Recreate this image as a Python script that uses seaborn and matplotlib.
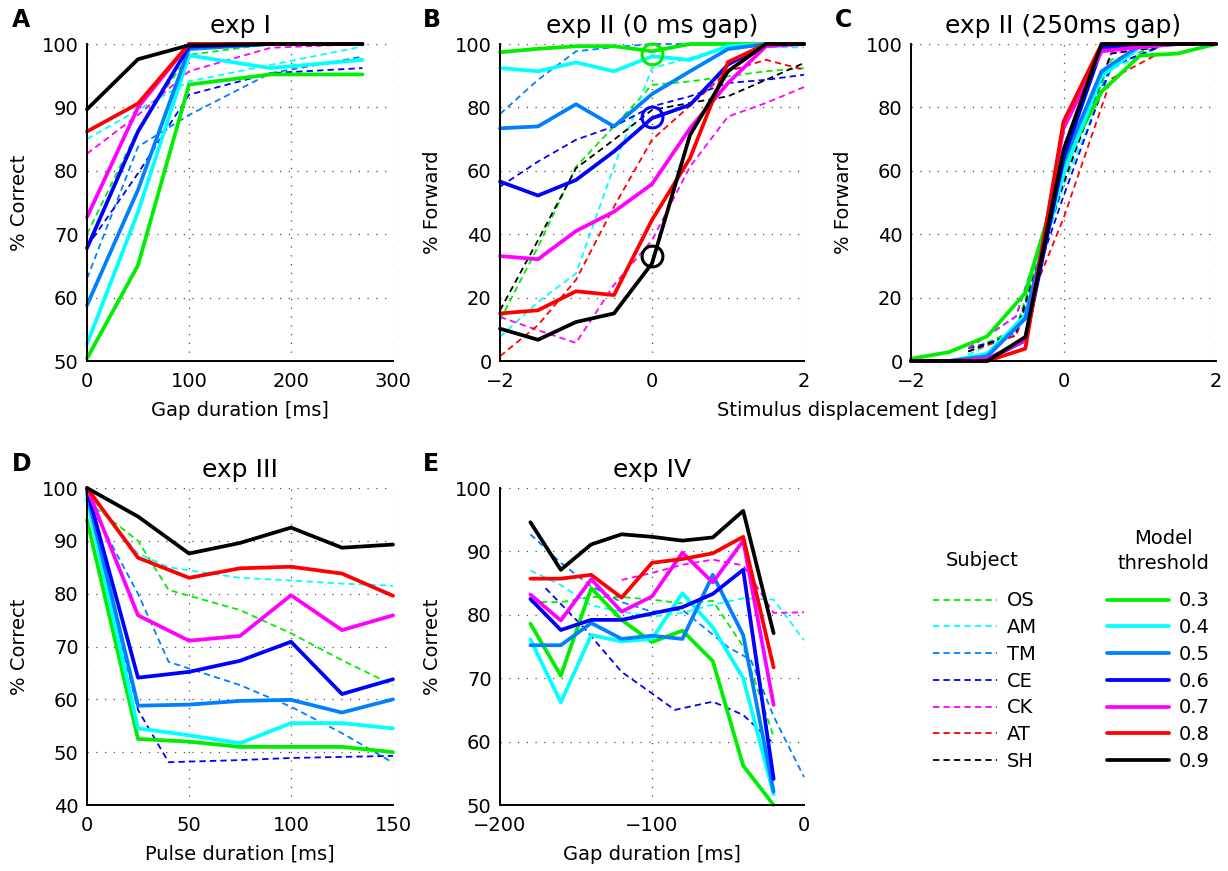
import matplotlib
matplotlib.use("Agg")
import matplotlib.pyplot as plt
import seaborn as sns

sns.set_style("white")
plt.rcParams['font.family'] = ['DejaVu Sans']
plt.rcParams['font.size'] = 14
plt.rcParams['text.color'] = 'black'
plt.rcParams['axes.labelcolor'] = 'black'
plt.rcParams['xtick.color'] = 'black'
plt.rcParams['ytick.color'] = 'black'

subjects = ["OS", "AM", "TM", "CE", "CK", "AT", "SH"]
thresholds = ["0.3", "0.4", "0.5", "0.6", "0.7", "0.8", "0.9"]
colors = ["#00ee00", "#00ffff", "#0080ff", "#0000ff", "#ff00ff", "#ff0000", "#000000"]

# exp I
a_x = [0, 50, 100, 180, 270]
a_model = [
    [50.4, 65.1, 93.6, 95.2, 95.2],
    [52.7, 73.5, 98.2, 96.2, 97.5],
    [58.8, 77.0, 99.2, 100, 100],
    [67.8, 86.2, 99.6, 100, 100],
    [72.7, 90.0, 100, 100, 100],
    [86.2, 90.6, 100, 100, 100],
    [89.7, 97.6, 99.8, 100, 100],
]
a_subj = [
    [70.0, 86.5, 98.3, 100, 100],
    [85.0, 89.6, 94.1, 96.7, 99.6],
    [63.0, 83.8, 88.8, 95.4, 98.0],
    [68.0, 79.6, 92.0, 95.4, 96.2],
    [82.7, 88.8, 95.7, 99.4, 100],
    None,
    None,
]

# exp II, 0 ms gap
b_x = [-2, -1.5, -1, -0.5, 0, 0.5, 1, 1.5, 2]
b_model = [
    [97.4, 98.5, 99.3, 99.3, 97.7, 100, 100, 100, 100],
    [92.4, 91.4, 94.2, 91.4, 96.1, 95.0, 99.3, 100, 100],
    [73.4, 74.0, 81.0, 74.0, 84.2, 91.4, 98.4, 100, 100],
    [56.6, 52.2, 57.1, 66.1, 76.6, 80.8, 93.5, 100, 100],
    [33.1, 32.1, 41.0, 47.1, 55.8, 73.4, 87.7, 99.3, 100],
    [15.0, 16.0, 22.0, 20.8, 44.5, 64.0, 94.3, 100, 100],
    [10.2, 6.7, 12.3, 15.0, 30.8, 71.3, 91.4, 100, 100],
]
b_subj = [
    [12.9, 36.0, 61.3, 74.0, 87.1, 88.2, 89.8, 91.4, 92.4],
    [7.6, 18.6, 27.6, 61.3, 92.4, 95.6, 99.0, 99.0, 98.9],
    [77.9, 88.7, 97.7, 99.0, 100, 100, 100, 100, 100],
    [55.0, 62.9, 69.8, 74.0, 80.3, 83.5, 87.7, 88.7, 90.3],
    [13.9, 9.7, 5.7, 24.0, 38.1, 61.3, 77.1, 81.4, 86.4],
    [1.5, 11.3, 25.6, 48.7, 69.8, 80.5, 91.4, 95.0, 91.9],
    [16.0, 38.1, 60.8, 69.8, 79.2, 81.4, 83.5, 88.7, 94.0],
]
b_circle_x = [0, 0, 0]
b_circle_y = [97, 77, 33]
b_circle_colors = ["#00ee00", "#0000ff", "#000000"]

# exp II, 250 ms gap
c_x = [-2, -1.5, -1, -0.5, 0, 0.5, 1, 1.5, 2]
c_model = [
    [0.7, 2.8, 7.8, 21.5, 62.0, 85.0, 96.3, 97.0, 100],
    [0, 0, 2.3, 14.4, 59.0, 89.8, 99.0, 100, 100],
    [0, 0, 1.5, 13.4, 63.0, 91.4, 99.5, 100, 100],
    [0, 0, 0.4, 6.5, 64.0, 98.7, 100, 100, 100],
    [0, 0, 0.7, 6.5, 73.4, 97.7, 99.0, 100, 100],
    [0, 0, 0, 3.9, 75.5, 100, 100, 100, 100],
    [0, 0, 0, 7.6, 66.6, 100, 100, 100, 100],
]
c_subj_x = [-1.25, -0.625, 0, 0.625, 1.25]
c_subj = [
    [3, 10, 58, 95, 99],
    [2, 9, 55, 92, 99],
    [4, 14, 60, 93, 99],
    [4, 8, 52, 93, 99],
    [4, 14, 58, 97, 99],
    [3, 8, 45, 89, 97],
    [3, 9, 56, 97, 99],
]

# exp III
d_x = [0, 25, 50, 75, 100, 125, 150]
d_model = [
    [94.0, 52.5, 52.0, 51.0, 51.0, 51.0, 50.0],
    [98.0, 54.5, 53.2, 51.7, 55.5, 55.5, 54.5],
    [99.0, 58.8, 59.0, 59.7, 59.9, 57.5, 60.0],
    [99.7, 64.1, 65.2, 67.3, 70.9, 61.0, 63.8],
    [100, 75.9, 71.1, 72.0, 79.7, 73.1, 75.9],
    [100, 86.8, 83.0, 84.8, 85.1, 83.8, 79.6],
    [100, 94.6, 87.6, 89.6, 92.5, 88.7, 89.3],
]
d_subj_x = [0, 25, 40, 75, 100, 125, 150]
d_subj = [
    [97.5, 90.0, 80.7, 76.9, 72.5, 67.4, 62.7],
    [99.0, 87.6, 85.0, 83.0, 82.5, 81.9, 81.5],
    [98.0, 80.0, 67.1, 62.7, 58.6, 53.6, 48.0],
    [97.0, 58.0, 48.1, 48.5, 48.9, 49.1, 49.3],
    None,
    None,
    None,
]

# exp IV
e_x = [-180, -160, -140, -120, -100, -80, -60, -40, -20]
e_model = [
    [78.6, 70.4, 84.2, 79.2, 75.7, 77.5, 72.7, 56.2, 50.0],
    [76.1, 66.2, 76.8, 75.8, 76.2, 83.4, 78.0, 70.0, 51.7],
    [75.2, 75.2, 78.7, 76.2, 76.7, 76.2, 86.3, 76.8, 52.1],
    [82.5, 77.6, 79.2, 79.2, 80.2, 81.2, 83.3, 87.1, 54.1],
    [83.2, 79.1, 85.6, 80.5, 82.9, 89.8, 85.1, 91.7, 65.8],
    [85.7, 85.7, 86.3, 82.7, 88.2, 88.8, 89.7, 92.3, 71.7],
    [94.6, 87.1, 91.1, 92.7, 92.3, 91.7, 92.2, 96.4, 77.1],
]
e_os_x = [-180, -160, -140, -120, -100, -80, -60, -40, -20]
e_os = [82.0, 82.0, 82.8, 82.8, 82.4, 81.8, 82.2, 75.0, 60.8]
e_am_x = [-180, -160, -140, -120, -100, -80, -60, -40, -20, 0]
e_am = [87.0, 84.7, 81.5, 80.5, 79.7, 80.3, 81.6, 82.6, 82.4, 76.0]
e_tm_x = [-180, -160, -140, -120, -100, -80, -50, -35, -20, 0]
e_tm = [92.7, 88.2, 84.5, 82.0, 80.5, 80.8, 74.9, 72.9, 64.0, 54.4]
e_ce_x = [-170, -145, -120, -100, -85, -60, -40, -20]
e_ce = [84.2, 78.0, 71.0, 67.6, 65.0, 66.3, 64.2, 59.7]
e_ck_x = [-120, -100, -80, -60, -40, -20, 0]
e_ck = [85.5, 86.6, 87.9, 88.7, 87.8, 80.3, 80.4]

fig = plt.figure(figsize=(12.28, 8.71), dpi=100)
W, H = 1228, 871


def make_ax(left, top, right, bottom):
    return fig.add_axes([left / W, 1 - bottom / H, (right - left) / W, (bottom - top) / H])


def subj_line(ax, xs, ys, c):
    sns.lineplot(x=xs, y=ys, ax=ax, color=c, linewidth=1.3, errorbar=None,
                 linestyle=(0, (3.5, 2.3)), clip_on=False)


def model_line(ax, xs, ys, c):
    sns.lineplot(x=xs, y=ys, ax=ax, color=c, linewidth=2.7, errorbar=None,
                 clip_on=False)


def style(ax, xlim, ylim, xticks, yticks, xlabel, ylabel, title):
    ax.set_xlim(xlim)
    ax.set_ylim(ylim)
    ax.set_xticks(xticks)
    ax.set_yticks(yticks)
    ax.grid(True, linestyle=(0, (1, 6)), color="0.3", linewidth=0.9)
    for s in ["top", "right"]:
        ax.spines[s].set_visible(False)
    for s in ["left", "bottom"]:
        ax.spines[s].set_color("black")
        ax.spines[s].set_linewidth(1.4)
    ax.tick_params(direction="in", length=4, width=1, labelsize=14)
    ax.tick_params(axis="x", pad=8)
    ax.tick_params(axis="y", pad=6)
    ax.set_xlabel(xlabel, fontsize=14)
    ax.set_ylabel(ylabel, fontsize=14)
    ax.xaxis.set_label_coords(0.5, -0.125)
    ax.yaxis.set_label_coords(-0.19, 0.5)
    ax.set_title(title, fontsize=18, pad=8)


axA = make_ax(87, 44, 393, 361)
axB = make_ax(500, 44, 804, 361)
axC = make_ax(911, 44, 1216, 361)
axD = make_ax(87, 488, 393, 805)
axE = make_ax(500, 488, 804, 805)

for i in range(7):
    if a_subj[i] is not None:
        subj_line(axA, a_x, a_subj[i], colors[i])
for i in range(7):
    model_line(axA, a_x, a_model[i], colors[i])
style(axA, (0, 300), (50, 100), [0, 100, 200, 300], range(50, 101, 10),
      "Gap duration [ms]", "% Correct", "exp I")

for i in range(7):
    subj_line(axB, b_x, b_subj[i], colors[i])
for i in range(7):
    model_line(axB, b_x, b_model[i], colors[i])
for cx, cy, cc in zip(b_circle_x, b_circle_y, b_circle_colors):
    axB.plot(cx, cy, "o", mfc="none", mec=cc, ms=15, mew=2.2, clip_on=False)
style(axB, (-2, 2), (0, 100), [-2, 0, 2], range(0, 101, 20),
      "", "% Forward", "exp II (0 ms gap)")
legend_lines = axB.get_lines()
subj_handles = legend_lines[:7]
model_handles = legend_lines[7:14]

for i in range(7):
    subj_line(axC, c_subj_x, c_subj[i], colors[i])
for i in range(7):
    model_line(axC, c_x, c_model[i], colors[i])
style(axC, (-2, 2), (0, 100), [-2, 0, 2], range(0, 101, 20),
      "", "% Forward", "exp II (250ms gap)")

for i in range(7):
    if d_subj[i] is not None:
        subj_line(axD, d_subj_x, d_subj[i], colors[i])
for i in range(7):
    model_line(axD, d_x, d_model[i], colors[i])
style(axD, (0, 150), (40, 100), [0, 50, 100, 150], range(40, 101, 10),
      "Pulse duration [ms]", "% Correct", "exp III")

subj_line(axE, e_os_x, e_os, colors[0])
subj_line(axE, e_am_x, e_am, colors[1])
subj_line(axE, e_tm_x, e_tm, colors[2])
subj_line(axE, e_ce_x, e_ce, colors[3])
subj_line(axE, e_ck_x, e_ck, colors[4])
for i in range(7):
    model_line(axE, e_x, e_model[i], colors[i])
style(axE, (-200, 0), (50, 100), [-200, -100, 0], range(50, 101, 10),
      "Gap duration [ms]", "% Correct", "exp IV")

fig.text(857 / W, 1 - 410 / H, "Stimulus displacement [deg]", ha="center", va="center", fontsize=14)

for letter, x, y in [("A", 12, 8), ("B", 423, 8), ("C", 835, 8), ("D", 12, 452), ("E", 423, 452)]:
    fig.text(x / W, 1 - y / H, letter, ha="left", va="top", fontsize=17, fontweight="bold")

# legends (titles drawn as separate texts)
fig.legend(subj_handles, subjects, loc="lower left", bbox_to_anchor=(933 / W, 1 - 771 / H),
           frameon=False, fontsize=14, handlelength=3.3, handletextpad=0.5,
           labelspacing=0.4, borderpad=0, borderaxespad=0)
fig.legend(model_handles, thresholds, loc="lower left", bbox_to_anchor=(1107 / W, 1 - 771 / H),
           frameon=False, fontsize=14, handlelength=3.2, handletextpad=0.5,
           labelspacing=0.4, borderpad=0, borderaxespad=0)
fig.text(982 / W, 1 - 560 / H, "Subject", ha="center", va="center", fontsize=14)
fig.text(1163 / W, 1 - 551 / H, "Model\nthreshold", ha="center", va="center",
         multialignment="center", linespacing=1.35, fontsize=14)

fig.savefig("out.png", dpi=100)
